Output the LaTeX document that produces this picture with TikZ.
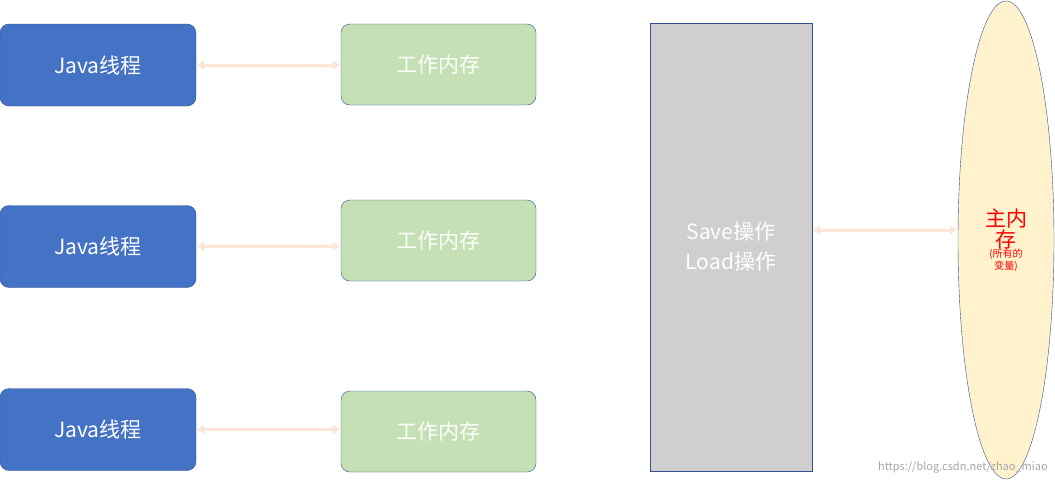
\documentclass[tikz,border=0pt]{standalone}
\usepackage{fontspec}
\setmainfont{Noto Sans CJK SC}
\usetikzlibrary{arrows.meta,shapes.geometric}
\definecolor{jblue}{HTML}{4472C4}
\definecolor{jborder}{HTML}{2F528F}
\definecolor{mgreen}{HTML}{C5E0B4}
\definecolor{agray}{HTML}{D0CECE}
\definecolor{eyel}{HTML}{FFF2CC}
\definecolor{arr}{HTML}{FBE5D6}
\newcommand{\bigf}{\fontsize{21}{26}\selectfont}
\newcommand{\smallf}{\fontsize{10}{13}\selectfont}
\begin{document}
\begin{tikzpicture}[x=1pt,y=-1pt,
  jbox/.style={draw=jborder,fill=jblue,rounded corners=9pt,minimum width=196pt,minimum height=82pt,text=white,font=\fontsize{21}{24}\selectfont,inner sep=0pt},
  mbox/.style={draw=jborder,fill=mgreen,rounded corners=9pt,minimum width=195pt,minimum height=81pt,text=white,font=\fontsize{21}{24}\selectfont,inner sep=0pt},
  conn/.style={draw=arr,line width=3pt,{Triangle[length=7pt,width=9pt]}-{Triangle[length=7pt,width=9pt]},shorten <=1pt,shorten >=1pt}]
\useasboundingbox (0,0) rectangle (1055,480);
\node[jbox] (j1) at (98,65) {Java线程};
\node[jbox] (j2) at (98,246.5) {Java线程};
\node[jbox] (j3) at (98,429.5) {Java线程};
\node[mbox] (m1) at (438.5,64.5) {工作内存};
\node[mbox] (m2) at (438.5,240.5) {工作内存};
\node[mbox] (m3) at (438.5,431.5) {工作内存};
\node[draw=jborder,fill=agray,minimum width=162pt,minimum height=448pt,inner sep=0pt,text=white,align=center,font=\fontsize{21}{30}\selectfont] (sl) at (731,247) {Save操作\\Load操作};
\node[ellipse,draw=jborder,fill=eyel,minimum width=96pt,minimum height=478pt,inner sep=0pt,align=center,text=red] (mm) at (1006,240) {\bigf 主内\\\bigf 存\\[-2pt]\smallf (所有的\\\smallf 变量)};
\draw[conn] (j1.east) -- (m1.west |- j1.east);
\draw[conn] (j2.east) -- (m2.west |- j2.east);
\draw[conn] (j3.east) -- (m3.west |- j3.east);
\draw[conn] (sl.east |- 0,230) -- (mm.west |- 0,230);
\node[text=gray!70,font=\fontsize{11}{13}\selectfont,anchor=south east,inner sep=2pt] (wm) at (1050,475) {https://blog.csdn.net/zhao\_miao};
\end{tikzpicture}
\end{document}
